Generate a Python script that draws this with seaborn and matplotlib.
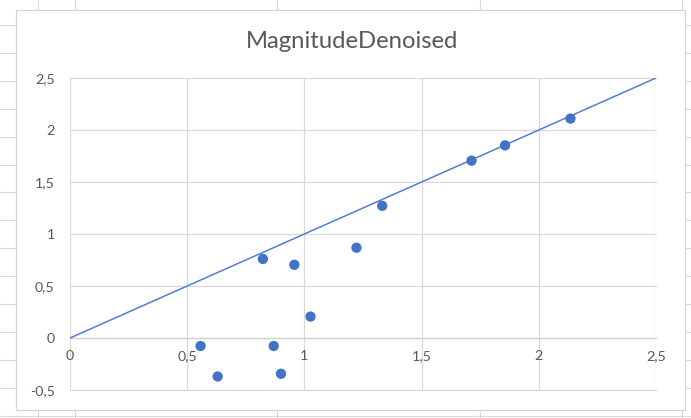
import matplotlib
matplotlib.use("Agg")
import matplotlib.pyplot as plt
from matplotlib.lines import Line2D
from matplotlib.patches import Rectangle
import seaborn as sns
import pandas as pd

# ---- data ----
x_vals = [0.557, 0.630, 0.823, 0.869, 0.900, 0.957, 1.026, 1.222, 1.332, 1.713, 1.856, 2.135]
y_vals = [-0.077, -0.370, 0.760, -0.077, -0.344, 0.704, 0.206, 0.868, 1.271, 1.705, 1.852, 2.110]
line_x = [0.0, 2.5]
line_y = [0.0, 2.5]
x_ticks = [0, 0.5, 1, 1.5, 2, 2.5]
x_tick_labels = ["0", "0,5", "1", "1,5", "2", "2,5"]
y_ticks = [-0.5, 0, 0.5, 1, 1.5, 2, 2.5]
y_tick_labels = ["-0,5", "0", "0,5", "1", "1,5", "2", "2,5"]
title = "MagnitudeDenoised"

W, H = 691, 418
sns.set_theme(style="white")
plt.rcParams["font.family"] = ["Lato", "DejaVu Sans"]

fig = plt.figure(figsize=(W / 100, H / 100), dpi=100)
fig.patch.set_facecolor("white")

# spreadsheet background grid
grid_c = "#dadada"
for cx in [38, 75, 277, 480, 682]:
    fig.add_artist(Line2D([cx / W, cx / W], [0, 1], color=grid_c, lw=0.8, zorder=0))
ry = 25.0
while ry < H:
    fig.add_artist(Line2D([0, 1], [1 - ry / H, 1 - ry / H], color=grid_c, lw=0.8, zorder=0))
    ry += 27.9

# chart area
fig.add_artist(Rectangle((16 / W, 1 - 410 / H), (685 - 16) / W, (410 - 9.5) / H,
                         facecolor="white", edgecolor="#d4d4d4", lw=0.9, zorder=1))

ax = fig.add_axes([70 / W, 1 - 390 / H, (656 - 70) / W, (390 - 78) / H], zorder=2)
ax.set_facecolor("none")

df_pts = pd.DataFrame({"x": x_vals, "y": y_vals})
df_line = pd.DataFrame({"x": line_x, "y": line_y})

sns.lineplot(data=df_line, x="x", y="y", ax=ax, color="#4f7fd2", lw=1.1, zorder=3)
sns.scatterplot(data=df_pts, x="x", y="y", ax=ax, color="#4472C4", s=55,
                edgecolor="none", zorder=4)

ax.set_xlim(0, 2.5)
ax.set_ylim(-0.5, 2.5)
ax.set_xticks(x_ticks, x_tick_labels)
ax.set_yticks(y_ticks, y_tick_labels)
ax.grid(True, color="#d9d9d9", lw=0.9)
for g in ax.get_xgridlines() + ax.get_ygridlines():
    g.set_clip_on(False)
ax.set_axisbelow(True)
for s in ["left", "right", "top"]:
    ax.spines[s].set_visible(False)
ax.spines["bottom"].set_position(("data", 0))
ax.spines["bottom"].set_color("#d0d0d0")
ax.spines["bottom"].set_linewidth(0.9)
ax.tick_params(axis="both", length=0, labelsize=10.3, labelcolor="#595959")
ax.tick_params(axis="x", pad=8.5)
ax.tick_params(axis="y", pad=11)
ax.set_xlabel("")
ax.set_ylabel("")

fig.text(352 / W, 1 - 41 / H, title, ha="center", va="center",
         fontsize=17.2, color="#595959", zorder=3)

fig.savefig("out.png", dpi=100)
